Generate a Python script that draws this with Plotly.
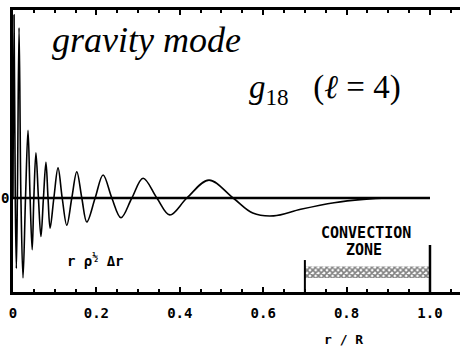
import plotly.graph_objects as go

# ---- data ----
r_over_R = [0.0, 0.0025, 0.0055, 0.008, 0.0105, 0.0145, 0.019, 0.024, 0.030, 0.036,
            0.041, 0.046, 0.050, 0.055, 0.061, 0.067, 0.073, 0.079, 0.084, 0.089,
            0.098, 0.108, 0.118, 0.129, 0.141, 0.153, 0.165, 0.177, 0.197, 0.216,
            0.237, 0.259, 0.285, 0.312, 0.345, 0.376, 0.417, 0.470, 0.528, 0.575,
            0.625, 0.690, 0.770, 0.840, 0.900, 1.000]
amplitude = [0.0, 1.95, 0.0, -0.75, 0.0, 1.81, 0.0, -0.85, 0.0, 0.72,
             0.0, -0.55, 0.0, 0.48, 0.0, -0.41, 0.0, 0.38, 0.0, -0.32,
             0.0, 0.32, 0.0, -0.29, 0.0, 0.28, 0.0, -0.255, 0.0, 0.245,
             0.0, -0.21, 0.0, 0.21, 0.0, -0.18, 0.0, 0.19, 0.0, -0.16,
             -0.19, -0.12, -0.05, -0.015, 0.0, 0.0]
convection_zone = [0.7, 1.0]
x_tick_vals = [0.0, 0.2, 0.4, 0.6, 0.8, 1.0]
x_tick_text = ["0", "0.2", "0.4", "0.6", "0.8", "1.0"]

MONO = "DejaVu Sans Mono"
SERIF = "Liberation Serif"

fig = go.Figure()

# eigenfunction
fig.add_trace(go.Scatter(
    x=r_over_R, y=amplitude, mode="lines",
    line=dict(color="black", width=1.6, shape="spline", smoothing=1.0),
    hoverinfo="skip", showlegend=False))

# hatched convection-zone bar
cz0, cz1 = convection_zone
fig.add_trace(go.Scatter(
    x=[cz0, cz1, cz1, cz0, cz0], y=[-0.85, -0.85, -0.73, -0.73, -0.85],
    mode="lines", fill="toself", line=dict(width=0),
    fillcolor="white",
    fillpattern=dict(shape="x", size=4, solidity=0.65, fgcolor="black", bgcolor="white"),
    hoverinfo="skip", showlegend=False))

# zero line and zone boundaries
fig.add_shape(type="line", x0=0, x1=cz1, y0=0, y1=0, line=dict(color="black", width=2.5))
fig.add_shape(type="line", x0=cz0, x1=cz0, y0=-1.0, y1=-0.66, line=dict(color="black", width=2))
fig.add_shape(type="line", x0=cz1, x1=cz1, y0=-1.0, y1=-0.5, line=dict(color="black", width=2.5))

fig.update_layout(
    width=460, height=356,
    margin=dict(l=13, r=0, t=10, b=64),
    paper_bgcolor="white", plot_bgcolor="white",
    xaxis=dict(range=[0, 1.072], showgrid=False, zeroline=False, automargin=False,
               showline=True, linecolor="black", linewidth=2.5, mirror="ticks",
               ticks="inside", ticklen=5, tickwidth=1.5, tickcolor="black",
               tickvals=x_tick_vals, ticktext=x_tick_text,
               tickfont=dict(family=MONO, size=14, color="black", weight="bold"),
               ticklabelstandoff=6,
               minor=dict(dtick=0.05, ticks="inside", ticklen=3, tickwidth=1.5, tickcolor="black")),
    yaxis=dict(range=[-1, 2], showgrid=False, zeroline=False, automargin=False,
               showline=True, linecolor="black", linewidth=2.5,
               ticks="", showticklabels=False),
)

# text labels placed by pixel position (figure px -> paper coords)
W, H, L, T, B = 460, 356, 13, 10, 64
pw, ph = W - L, H - T - B
def paper(px, py):
    return (px - L) / pw, (H - B - py) / ph

labels = [
    ("<i>gravity mode</i>", (146, 40), SERIF, 36, "normal"),
    ("<i>g</i><sub>18</sub>&#160;&#160;&#160;(<i>ℓ</i> = 4)", (325, 89), SERIF, 33, "normal"),
    ("r ρ<sup>½</sup> Δr", (95, 260), MONO, 14, "bold"),
    ("CONVECTION", (366, 233), MONO, 15, "bold"),
    ("ZONE", (364, 250), MONO, 15, "bold"),
    ("r / R", (343, 339), MONO, 13, "bold"),
    ("0", (5, 198), MONO, 14, "bold"),
]
for text, (px, py), fam, size, weight in labels:
    x, y = paper(px, py)
    fig.add_annotation(text=text, xref="paper", yref="paper", x=x, y=y,
                       xanchor="center", yanchor="middle", showarrow=False,
                       font=dict(family=fam, size=size, color="black", weight=weight))

fig.write_html("out.html", config={"displayModeBar": False},
               post_script="document.body.style.margin='0';document.body.style.overflow='hidden';")
